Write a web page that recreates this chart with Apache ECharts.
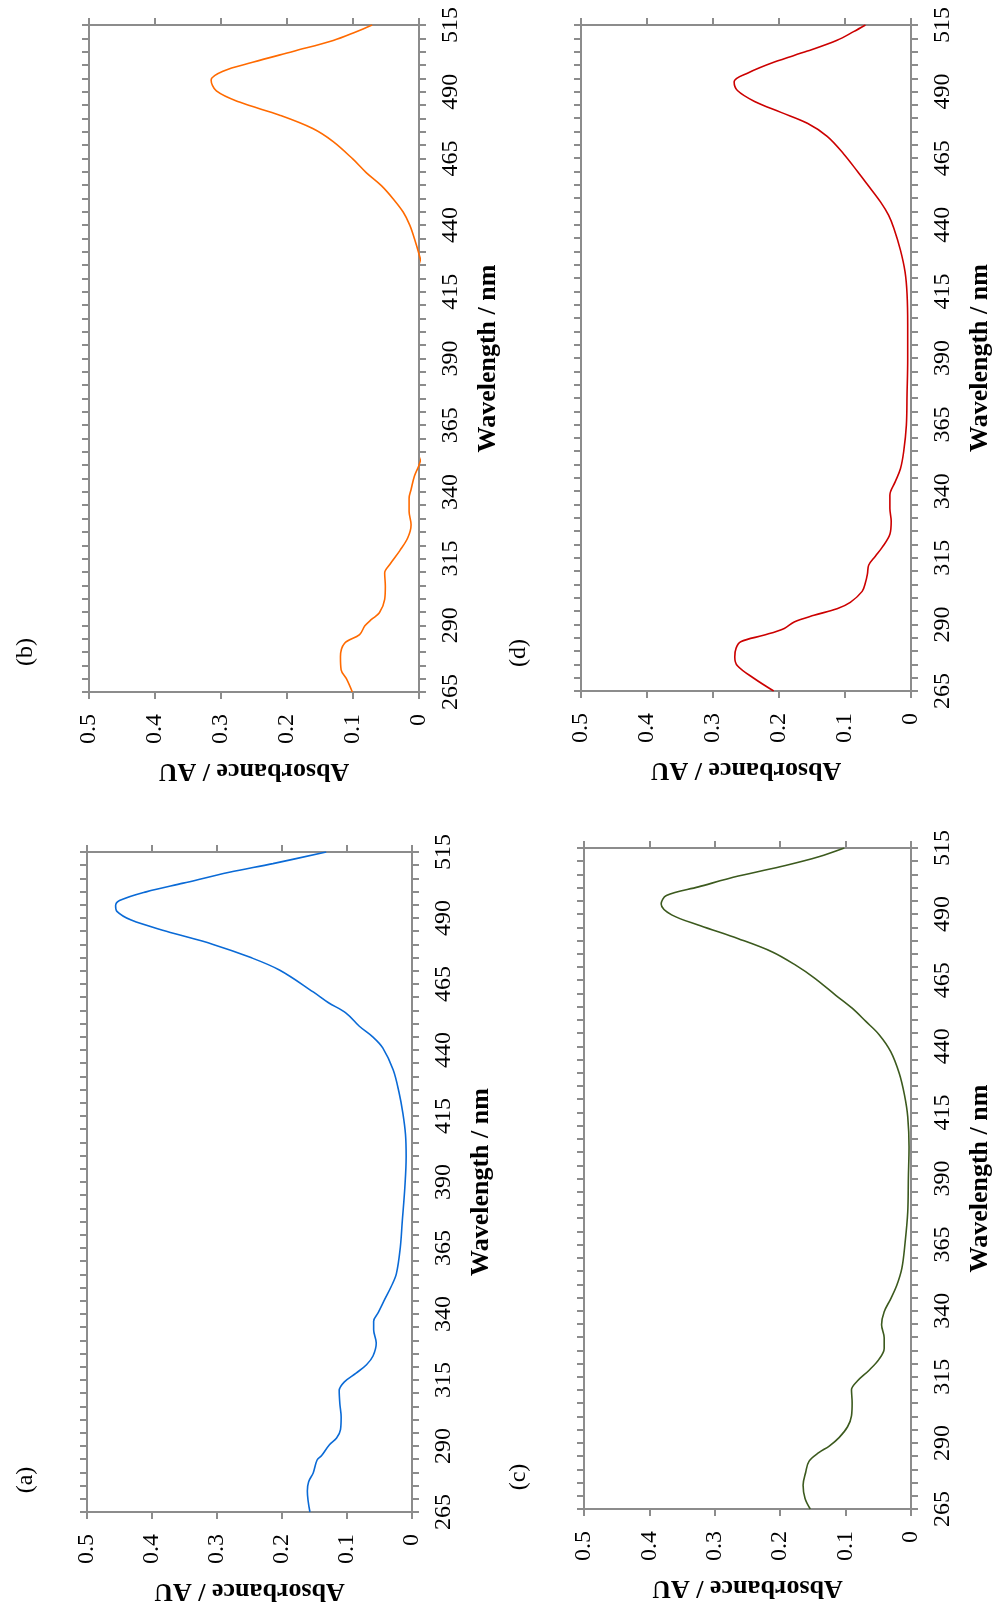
<!DOCTYPE html>
<html><head><meta charset="utf-8">
<script src="https://cdn.jsdelivr.net/npm/echarts@6/dist/echarts.min.js"></script>
<style>html,body{margin:0;padding:0;background:#fff}#c{width:995px;height:1612px}</style>
</head><body><div id="c"></div>
<script>
// ---- data ----
const panelNames = ['(a)', '(b)', '(c)', '(d)'];
const lineColors = ['#0a6ad6', '#ff6a00', '#3c5a1e', '#cc0000'];
const wavelengthLabels = [265, 290, 315, 340, 365, 390, 415, 440, 465, 490, 515];
const wavelengthMin = 265, wavelengthMax = 515;
const absorbanceMin = 0, absorbanceMax = 0.5, absorbanceStep = 0.1;

const wlA = [265,273,276.5,279.8,284.7,286.4,290.5,293,296.2,301,306,311,314.3,317.6,320.8,324.1,329,334,337.3,340.5,345.5,350.4,355.3,365.2,375,388,399.7,408,416,424,432.5,440.8,444.9,449,453.9,458,462,470.3,475.2,480,485,489.2,492.5,494.6,496.6,499.9,503.2,507.3,510.6,515];
const absA = [0.157,0.161,0.159,0.152,0.146,0.139,0.127,0.116,0.110,0.109,0.111,0.112,0.104,0.086,0.070,0.060,0.055,0.059,0.059,0.052,0.042,0.032,0.024,0.018,0.015,0.011,0.009,0.010,0.014,0.020,0.029,0.045,0.060,0.081,0.101,0.129,0.152,0.204,0.250,0.306,0.378,0.432,0.454,0.456,0.450,0.409,0.352,0.281,0.214,0.132];

const wlB = [265,270,273.3,278.2,283.2,286.5,289.8,292.2,294.7,299.7,304.6,309.6,312.9,318,322.8,327.7,332.7,337.6,340.9,345.9,350,360,375,390,405,418,429.2,435,440,444.9,449.8,454.8,459.7,464.7,471.3,476.2,481.2,486.1,490.3,494.4,497.7,501,505.1,509.2,512.5,515];
const absB = [0.101,0.110,0.118,0.119,0.113,0.090,0.082,0.072,0.060,0.052,0.051,0.052,0.044,0.029,0.017,0.012,0.015,0.015,0.012,0.007,0,-0.012,-0.020,-0.024,-0.022,-0.012,0,0.007,0.014,0.024,0.039,0.057,0.080,0.100,0.130,0.161,0.211,0.272,0.307,0.315,0.297,0.252,0.191,0.130,0.095,0.071];

const wlC = [265,269,274,278.9,283,286.3,288.8,292,296.1,300.2,305.2,310.1,313.4,317.5,321.6,325.7,329.8,334.7,339.6,344.5,349.4,356,365.8,377.3,390.4,401.9,413.4,421.6,429.8,438,444.5,449.4,454.4,459.3,465.9,470.8,475.7,480.7,485.6,489.7,493.8,497,500.3,504.4,508.4,511.7,515];
const absC = [0.154,0.162,0.165,0.161,0.156,0.141,0.125,0.110,0.097,0.091,0.090,0.091,0.082,0.064,0.049,0.041,0.041,0.045,0.041,0.031,0.022,0.014,0.009,0.005,0.004,0.003,0.005,0.010,0.018,0.031,0.049,0.069,0.090,0.115,0.148,0.177,0.212,0.264,0.322,0.366,0.382,0.374,0.325,0.264,0.192,0.141,0.102];

const wlD = [265,269.6,274.5,277.8,281.1,283.5,286,288.5,290.9,293.4,295.9,298.3,302.4,305.7,309,312.3,315.6,318.8,323.8,328.7,333.6,338.5,343.5,348.4,355,364.8,376.3,389.4,402.6,414.1,422.3,430.5,438.7,443.6,448.5,455.1,460,466.6,473.2,478.1,482.2,486.3,490.4,493.7,497,501.1,505.2,509.3,512.5,515];
const absD = [0.208,0.237,0.263,0.267,0.265,0.258,0.222,0.192,0.177,0.147,0.112,0.092,0.074,0.069,0.066,0.064,0.054,0.044,0.032,0.030,0.032,0.032,0.024,0.016,0.011,0.007,0.006,0.005,0.005,0.006,0.009,0.016,0.026,0.034,0.046,0.066,0.081,0.102,0.127,0.157,0.197,0.237,0.263,0.268,0.247,0.207,0.157,0.112,0.087,0.069];

const panelWl = [wlA, wlB, wlC, wlD];
const panelAbs = [absA, absB, absC, absD];

// ---- layout ----
const grids = [
  { left: 87, top: 852, width: 325, height: 660 },
  { left: 89, top: 25, width: 330, height: 667 },
  { left: 584, top: 848, width: 327, height: 661 },
  { left: 581, top: 25, width: 330, height: 666 }
];
const labelPos = [[26, 1480], [26, 652], [519, 1477], [519, 653]];

const minorTicks = [];
for (let w = wavelengthMin; w <= wavelengthMax; w += 5) minorTicks.push(w);

const axisCol = '#8c8c8c';
const serif = '"Liberation Serif", "Times New Roman", serif';
const lineStyle = { color: axisCol, width: 2 };

const xAxes = [], yAxes = [], series = [], graphics = [];
grids.forEach((g, i) => {
  const xBase = { gridIndex: i, type: 'value', min: absorbanceMin, max: absorbanceMax, interval: absorbanceStep, inverse: true,
    axisLine: { show: true, onZero: false, lineStyle }, axisTick: { show: true, length: 7, lineStyle }, splitLine: { show: false } };
  xAxes.push(Object.assign({}, xBase, {
    position: 'bottom',
    axisLabel: { rotate: 90, margin: 22, fontFamily: serif, fontSize: 24, color: '#000' },
    name: 'Absorbance / AU', nameLocation: 'middle', nameGap: 66, nameRotate: 180,
    nameTextStyle: { fontFamily: serif, fontSize: 26, fontWeight: 'bold', color: '#000' }
  }));
  xAxes.push(Object.assign({}, xBase, { position: 'top', axisLabel: { show: false } }));
  const yBase = { gridIndex: i, type: 'value', min: wavelengthMin, max: wavelengthMax,
    axisLine: { show: true, onZero: false, lineStyle }, splitLine: { show: false },
    axisTick: { show: true, length: 7, lineStyle, customValues: minorTicks } };
  yAxes.push(Object.assign({}, yBase, {
    position: 'right',
    axisLabel: { rotate: 90, margin: 20, customValues: wavelengthLabels, fontFamily: serif, fontSize: 24, color: '#000' },
    name: 'Wavelength / nm', nameLocation: 'middle', nameGap: 56, nameRotate: 90,
    nameTextStyle: { fontFamily: serif, fontSize: 26, fontWeight: 'bold', color: '#000' }
  }));
  yAxes.push(Object.assign({}, yBase, { position: 'left', axisLabel: { show: false } }));
  series.push({
    type: 'line', xAxisIndex: 2 * i, yAxisIndex: 2 * i,
    data: panelWl[i].map((w, k) => [panelAbs[i][k], w]),
    smooth: 0.35, symbol: 'none', clip: true,
    lineStyle: { color: lineColors[i], width: 1.6 }
  });
  graphics.push({
    type: 'text', x: labelPos[i][0], y: labelPos[i][1], rotation: Math.PI / 2,
    style: { text: panelNames[i], font: '24px ' + serif, fill: '#000', align: 'center', verticalAlign: 'middle' }
  });
});

const chart = echarts.init(document.getElementById('c'), null, { renderer: 'canvas' });
chart.setOption({
  animation: false,
  backgroundColor: '#fff',
  grid: grids.map(g => Object.assign({ containLabel: false }, g)),
  xAxis: xAxes, yAxis: yAxes, series, graphic: graphics
});
</script></body></html>
